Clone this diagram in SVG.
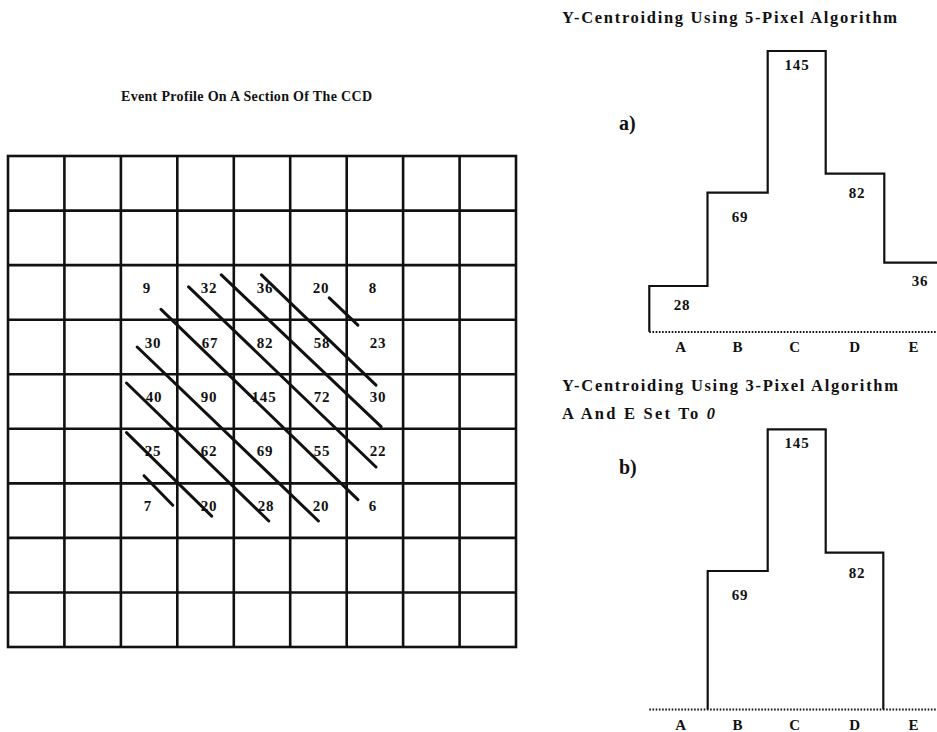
<svg xmlns="http://www.w3.org/2000/svg" width="937" height="732" viewBox="0 0 937 732">
<defs>
<style>
.t{font-family:"Liberation Serif","Times New Roman",serif;font-weight:bold;fill:#111}
.n{font-size:15px;text-anchor:middle;letter-spacing:0.8px}
.ttl{font-size:14px}
.ttl2{font-size:16.5px}
.lab{font-size:20px}
.g{stroke:#111;stroke-width:2.6;fill:none}
.d{stroke:#111;stroke-width:3;stroke-linecap:round;fill:none}
.h{stroke:#111;stroke-width:2.2;fill:none}
.dot{stroke:#111;stroke-width:2.2;stroke-dasharray:1.6 1.6;fill:none}
</style>
</defs>
<rect width="937" height="732" fill="#fff"/>

<g id="title-grid">
<text class="t ttl" x="121" y="101" textLength="251" lengthAdjust="spacing">Event Profile On A Section Of The CCD</text>
</g>

<g id="grid">
<rect class="g" x="8" y="156" width="508" height="491"/>
<path class="g" d="M64.4,156V647M120.9,156V647M177.3,156V647M233.8,156V647M290.2,156V647M346.7,156V647M403.1,156V647M459.6,156V647
M8,210.6H516M8,265.1H516M8,319.7H516M8,374.2H516M8,428.8H516M8,483.4H516M8,537.9H516M8,592.5H516"/>
</g>

<g id="cell-values">
<text class="t n" x="147" y="293">9</text>
<text class="t n" x="209" y="293">32</text>
<text class="t n" x="265" y="293">36</text>
<text class="t n" x="321" y="293">20</text>
<text class="t n" x="373" y="293">8</text>
<text class="t n" x="153" y="348">30</text>
<text class="t n" x="210" y="348">67</text>
<text class="t n" x="265" y="348">82</text>
<text class="t n" x="322" y="348">58</text>
<text class="t n" x="378" y="348">23</text>
<text class="t n" x="154" y="402">40</text>
<text class="t n" x="209" y="402">90</text>
<text class="t n" x="264" y="402">145</text>
<text class="t n" x="322" y="402">72</text>
<text class="t n" x="378" y="402">30</text>
<text class="t n" x="153" y="456">25</text>
<text class="t n" x="209" y="456">62</text>
<text class="t n" x="265" y="456">69</text>
<text class="t n" x="322" y="456">55</text>
<text class="t n" x="378" y="456">22</text>
<text class="t n" x="148" y="511">7</text>
<text class="t n" x="209" y="511">20</text>
<text class="t n" x="266" y="511">28</text>
<text class="t n" x="321" y="511">20</text>
<text class="t n" x="373" y="511">6</text>
</g>

<g id="diagonals">
<line class="d" x1="144" y1="475.7" x2="172.8" y2="505.2"/>
<line class="d" x1="126.5" y1="432.6" x2="211.7" y2="516.1"/>
<line class="d" x1="126.5" y1="383" x2="268.8" y2="521"/>
<line class="d" x1="137.2" y1="347" x2="318.4" y2="521"/>
<line class="d" x1="161" y1="309.3" x2="357.9" y2="499.7"/>
<line class="d" x1="188.6" y1="286.9" x2="376" y2="467"/>
<line class="d" x1="221.3" y1="274.9" x2="381.1" y2="426.6"/>
<line class="d" x1="261.4" y1="274.9" x2="376" y2="385.2"/>
<line class="d" x1="329.2" y1="297.9" x2="357.9" y2="325.1"/>
</g>

<g id="histogram-a">
<text class="t ttl2" x="562" y="23" textLength="335" lengthAdjust="spacing">Y-Centroiding Using 5-Pixel Algorithm</text>
<text class="t lab" x="619" y="130">a)</text>
<path class="h" d="M649.3,331.7V286H707.5V192.7H767.7V51H825.7V173.7H884.3V262.7H937"/>
<line class="dot" x1="649.3" y1="332" x2="937" y2="332"/>
<text class="t n" x="682" y="310">28</text>
<text class="t n" x="740" y="222">69</text>
<text class="t n" x="797" y="70">145</text>
<text class="t n" x="857" y="198">82</text>
<text class="t n" x="920" y="286">36</text>
<text class="t n" x="681" y="352">A</text>
<text class="t n" x="738" y="352">B</text>
<text class="t n" x="795" y="352">C</text>
<text class="t n" x="855" y="352">D</text>
<text class="t n" x="914" y="352">E</text>
</g>

<g id="histogram-b">
<text class="t ttl2" x="562" y="391" textLength="336" lengthAdjust="spacing">Y-Centroiding Using 3-Pixel Algorithm</text>
<text class="t ttl2" x="562" y="419" textLength="153" lengthAdjust="spacing">A And E Set To <tspan font-style="italic">0</tspan></text>
<text class="t lab" x="619" y="474">b)</text>
<path class="h" d="M707.7,709.3V571H767.7V429.3H825.7V552.7H883.3V709.3"/>
<line class="dot" x1="649.3" y1="709.5" x2="937" y2="709.5"/>
<text class="t n" x="797" y="448">145</text>
<text class="t n" x="857" y="578">82</text>
<text class="t n" x="740" y="600">69</text>
<text class="t n" x="681" y="730">A</text>
<text class="t n" x="738" y="730">B</text>
<text class="t n" x="795" y="730">C</text>
<text class="t n" x="855" y="730">D</text>
<text class="t n" x="914" y="730">E</text>
</g>
</svg>
